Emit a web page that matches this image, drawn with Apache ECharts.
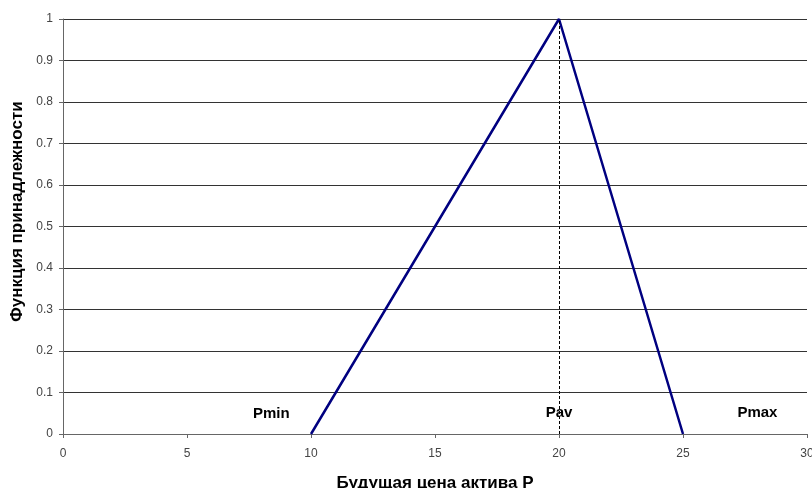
<!DOCTYPE html>
<html>
<head>
<meta charset="utf-8">
<script src="https://cdn.jsdelivr.net/npm/echarts@6/dist/echarts.min.js"></script>
<style>
  html, body { margin: 0; padding: 0; background: #fff; }
  #chart { width: 812px; height: 488px; }
</style>
</head>
<body>
<div id="chart"></div>
<script>
// membership function points (x, y)
const priceX = [10, 20, 25]
const membership = [0, 1, 0]

// labels inside the plot
const markNames = ['Pmin', 'Pav', 'Pmax']
const markX = [8.4, 20, 28]
const markY = [0.048, 0.052, 0.052]

const chart = echarts.init(document.getElementById('chart'))

const option = {
  backgroundColor: '#fff',
  animation: false,
  grid: { left: 63, right: 5, top: 19, bottom: 54, containLabel: false, outerBoundsMode: 'none' },
  xAxis: {
    type: 'value',
    min: 0,
    max: 30,
    interval: 5,
    name: 'Будущая цена актива Р',
    nameLocation: 'middle',
    nameGap: 41,
    nameTextStyle: { color: '#000', fontSize: 17, fontWeight: 'bold', fontFamily: 'Liberation Sans' },
    axisLine: { lineStyle: { color: '#666' } },
    axisTick: { show: true, length: 4, lineStyle: { color: '#666' } },
    axisLabel: { color: '#444', fontSize: 12, fontFamily: 'Liberation Sans', margin: 14 },
    splitLine: { show: false }
  },
  yAxis: {
    type: 'value',
    min: 0,
    max: 1,
    interval: 0.1,
    name: 'Функция принадлежности',
    nameLocation: 'middle',
    nameGap: 35,
    nameTextStyle: {
      color: '#000', fontSize: 17, fontWeight: 'bold', fontFamily: 'Liberation Sans',
      padding: [0, 0, 0, 30]
    },
    axisLine: { show: true, lineStyle: { color: '#666' } },
    axisTick: { show: true, length: 4, lineStyle: { color: '#666' } },
    axisLabel: { color: '#444', fontSize: 12, fontFamily: 'Liberation Sans', margin: 10 },
    splitLine: { show: true, lineStyle: { color: '#333', width: 1 } }
  },
  series: [
    {
      type: 'line',
      data: priceX.map((x, i) => [x, membership[i]]),
      symbol: 'none',
      lineStyle: { color: '#000080', width: 2.5 },
      markLine: {
        silent: true,
        symbol: 'none',
        label: { show: false },
        lineStyle: { color: '#000', type: [3, 2], width: 1 },
        data: [[{ coord: [20, 0] }, { coord: [20, 1] }]]
      },
      z: 3
    },
    {
      type: 'scatter',
      data: markNames.map((n, i) => ({ value: [markX[i], markY[i]], name: n })),
      symbolSize: 0,
      itemStyle: { opacity: 1 },
      label: {
        show: true,
        position: 'inside',
        formatter: '{b}',
        color: '#000',
        textBorderWidth: 0,
        fontSize: 15,
        fontWeight: 'bold',
        fontFamily: 'Liberation Sans'
      },
      z: 4
    }
  ]
}

chart.setOption(option)
</script>
</body>
</html>
